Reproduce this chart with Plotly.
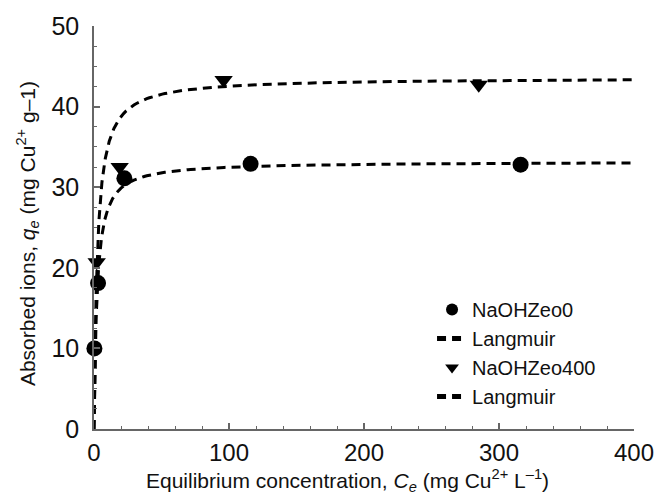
import numpy as np
import plotly.graph_objects as go

# Data
ce_zeo0 = [0.3, 3, 22.5, 116, 316]
qe_zeo0 = [10.0, 18.1, 31.1, 32.9, 32.8]
ce_zeo400 = [2, 19, 96, 285]
qe_zeo400 = [20.7, 32.5, 43.3, 42.7]

# Langmuir fit parameters (qm, K)
lang_zeo0 = (33.2, 0.45)
lang_zeo400 = (43.6, 0.40)

c_fit = np.concatenate([np.linspace(0, 20, 200), np.linspace(20, 400, 200)])

def langmuir(c, p):
    qm, k = p
    return qm * k * c / (1 + k * c)

dash_style = "9px,6px"

fig = go.Figure()
fig.add_trace(go.Scatter(x=ce_zeo0, y=qe_zeo0, mode="markers", name="NaOHZeo0",
                         marker=dict(symbol="circle", size=16, color="black"), cliponaxis=False))
fig.add_trace(go.Scatter(x=c_fit, y=langmuir(c_fit, lang_zeo0), mode="lines", name="Langmuir",
                         line=dict(color="black", width=3, dash=dash_style)))
fig.add_trace(go.Scatter(x=ce_zeo400, y=qe_zeo400, mode="markers", name="NaOHZeo400",
                         marker=dict(symbol="triangle-down", size=16, color="black"), cliponaxis=False))
fig.add_trace(go.Scatter(x=c_fit, y=langmuir(c_fit, lang_zeo400), mode="lines", name="Langmuir",
                         line=dict(color="black", width=3, dash=dash_style)))

axis_col = "#666"
fig.update_layout(
    width=666, height=497,
    margin=dict(l=94, r=24, t=26, b=68),
    paper_bgcolor="white", plot_bgcolor="white",
    font=dict(family="Liberation Sans, Arial, sans-serif", color="#111"),
    showlegend=True,
    legend=dict(x=0.626, y=0.345, xanchor="left", yanchor="top",
                font=dict(size=20), bgcolor="rgba(0,0,0,0)", tracegroupgap=0,
                itemwidth=30, itemsizing="constant"),
    xaxis=dict(range=[0, 400], tickvals=[0, 100, 200, 300, 400],
               showline=True, linecolor=axis_col, linewidth=1.5,
               ticks="inside", ticklen=6, tickcolor=axis_col, tickwidth=1.5,
               minor=dict(dtick=20, ticks="inside", ticklen=3, tickcolor=axis_col, tickwidth=1),
               showgrid=False, zeroline=False, tickfont=dict(size=24),
               ticklabelstandoff=1),
    yaxis=dict(range=[0, 50], tickvals=[0, 10, 20, 30, 40, 50],
               showline=True, linecolor=axis_col, linewidth=1.5,
               ticks="inside", ticklen=6, tickcolor=axis_col, tickwidth=1.5,
               minor=dict(dtick=2.5, ticks="inside", ticklen=3, tickcolor=axis_col, tickwidth=1),
               showgrid=False, zeroline=False, tickfont=dict(size=25),
               ticklabelstandoff=8),
    annotations=[
        dict(text="Equilibrium concentration, <i>C<sub>e</sub></i> (mg Cu<sup>2+</sup> L<sup>\u20131</sup>)",
             xref="paper", yref="paper", x=0.469, y=-0.129, xanchor="center", yanchor="middle",
             showarrow=False, font=dict(size=21)),
        dict(text="Absorbed ions, <i>q<sub>e</sub></i> (mg Cu<sup>2+</sup> g\u20131)",
             xref="paper", yref="paper", x=-0.122, y=0.484, xanchor="center", yanchor="middle",
             textangle=-90, showarrow=False, font=dict(size=21)),
    ],
)

fig.write_html("out.html")
